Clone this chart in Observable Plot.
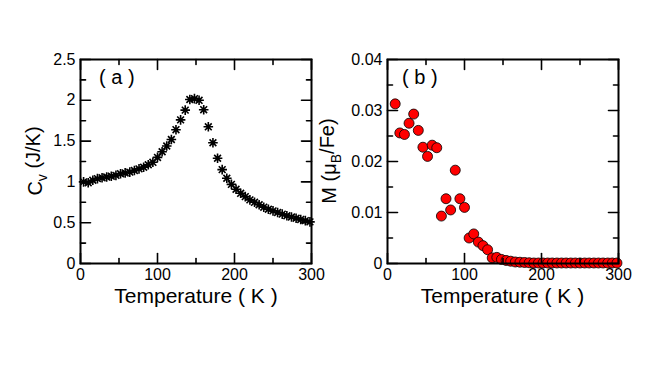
<!DOCTYPE html>
<html><head><meta charset="utf-8">
<script src="https://cdn.jsdelivr.net/npm/d3@7"></script>
<script src="https://cdn.jsdelivr.net/npm/@observablehq/plot@0.6"></script>
<style>
html,body{margin:0;padding:0;background:#fff;}
body{width:667px;height:375px;overflow:hidden;position:relative;font-family:"Liberation Sans",Arial,sans-serif;}
#pa,#pb{position:absolute;top:0;}
#pa{left:0;} #pb{left:300px;}
</style></head>
<body><div id="pa"></div><div id="pb"></div>
<script>
// ---- data ----
const temperatureA = [4,10,16,22,28,34,40,46,52,58,64,70,76,82,88,94,100,106,112,118,124,130,136,142,148,154,160,166,172,178,184,190,196,202,208,214,220,226,232,238,244,250,256,262,268,274,280,286,292,298];
const heatCapacity = [1.00,0.99,1.02,1.04,1.05,1.06,1.07,1.08,1.10,1.11,1.12,1.14,1.16,1.18,1.21,1.24,1.30,1.37,1.44,1.52,1.64,1.76,1.88,2.01,2.02,2.00,1.885,1.675,1.48,1.29,1.15,1.045,0.97,0.91,0.86,0.82,0.78,0.75,0.72,0.69,0.665,0.645,0.625,0.605,0.585,0.57,0.555,0.54,0.525,0.51];
const temperatureB = [10,16,22,28,34,40,46,52,58,64,70,76,82,88,94,100,106,112,118,124,130,136,142,148,154,160,166,172,178,184,190,196,202,208,214,220,226,232,238,244,250,256,262,268,274,280,286,292,298];
const magnetization = [0.0313,0.0256,0.0253,0.0275,0.0293,0.0261,0.0228,0.0210,0.0232,0.0227,0.0093,0.0127,0.0105,0.0183,0.0127,0.0110,0.0050,0.0058,0.0042,0.0035,0.0027,0.0011,0.0012,0.0008,0.0006,0.00045,0.0003,0.00025,0.0002,0.00015,0.0001,0.0001,0.0001,0.0001,0.0001,0.0001,0.0001,0.0001,0.0001,0.0001,0.0001,0.0001,0.0001,0.0001,0.0001,0.0001,0.0001,0.0001,0.0001];
const xTicks = [0,100,200,300];
const xMinorTicks = [50,150,250];
const cvTicks = [0,0.5,1,1.5,2,2.5];
const cvMinorTicks = [0.25,0.75,1.25,1.75,2.25];
const mTicks = [0,0.01,0.02,0.03,0.04];
const mMinorTicks = [0.005,0.015,0.025,0.035];

const FONT = "'Liberation Sans', Arial, Helvetica, sans-serif";
const star8 = {draw(ctx, size){ const r = Math.sqrt(size/Math.PI);
  for (let i=0;i<4;i++){ const a=i*Math.PI/4, c=Math.cos(a)*r, s=Math.sin(a)*r; ctx.moveTo(c,s); ctx.lineTo(-c,-s);} }};
const tickShape = {draw(ctx, l){ ctx.moveTo(0,0); ctx.lineTo(0,-l); }};

function tickMarks(ticks, axis, side, len){
  const rot = {bottom:0, top:180, left:90, right:-90}[side];
  const opts = {frameAnchor:side, length:len, rotate:rot, anchor:"start", shape:tickShape, stroke:"black", strokeWidth:1.6};
  if (axis === "x") opts.x = d => d; else opts.y = d => d;
  return Plot.vector(ticks, opts);
}

function frameAxes(yTicks, yMinor){
  return [
    Plot.axisX({anchor:"bottom", ticks:xTicks, tickSize:0, tickPadding:5, fontSize:16, label:null, tickFormat:d=>String(d)}),
    Plot.axisY({anchor:"left", ticks:yTicks, tickSize:0, tickPadding:5, fontSize:16, label:null, tickFormat:d=>String(d)}),
    tickMarks(xTicks, "x", "bottom", 10), tickMarks(xMinorTicks, "x", "bottom", 5),
    tickMarks(xTicks, "x", "top", 10), tickMarks(xMinorTicks, "x", "top", 5),
    tickMarks(yTicks, "y", "left", 10), tickMarks(yMinor, "y", "left", 5),
    tickMarks(yTicks, "y", "right", 10), tickMarks(yMinor, "y", "right", 5),
    Plot.frame({stroke:"black", strokeWidth:2})
  ];
}

const dataA = temperatureA.map((t,i)=>({t, v:heatCapacity[i]}));
const dataB = temperatureB.map((t,i)=>({t, v:magnetization[i]}));

const plotA = Plot.plot({
  width:333, height:320,
  marginLeft:80, marginRight:22, marginTop:59, marginBottom:57,
  style:{fontFamily:FONT, color:"black", background:"none", overflow:"visible"},
  x:{domain:[0,300]}, y:{domain:[0,2.5]},
  marks:[
    Plot.dot(dataA, {x:"t", y:"v", symbol:star8, r:4.8, fill:"none", stroke:"black", strokeWidth:1.6}),
    ...frameAxes(cvTicks, cvMinorTicks),
    Plot.text(["( a )"], {frameAnchor:"top-left", dx:18.5, dy:10, fontSize:20, textAnchor:"start", lineAnchor:"top", fill:"black"})
  ]
});
const plotB = Plot.plot({
  width:367, height:320,
  marginLeft:87, marginRight:49, marginTop:59, marginBottom:57,
  style:{fontFamily:FONT, color:"black", background:"none", overflow:"visible"},
  x:{domain:[0,300]}, y:{domain:[0,0.04]},
  marks:[
    Plot.dot(dataB, {x:"t", y:"v", r:5, fill:"#ff0000", stroke:"black", strokeWidth:0.8}),
    ...frameAxes(mTicks, mMinorTicks),
    Plot.text(["( b )"], {frameAnchor:"top-left", dx:14.5, dy:10, fontSize:20, textAnchor:"start", lineAnchor:"top", fill:"black"})
  ]
});
document.getElementById("pa").appendChild(plotA);
document.getElementById("pb").appendChild(plotB);

function addTitles(svg, xCenter, yBaselineX, parts){
  const s = d3.select(svg);
  s.append("text").attr("x", xCenter).attr("y", 303).attr("text-anchor","middle")
    .attr("font-size",21).attr("font-family",FONT).attr("fill","black").text("Temperature ( K )");
  const t = s.append("text").attr("transform",`translate(${yBaselineX},161) rotate(-90)`)
    .attr("text-anchor","middle").attr("font-size",20).attr("font-family",FONT).attr("fill","black");
  parts.forEach(([txt, sub]) => {
    const sp = t.append("tspan").text(txt);
    if (sub) sp.attr("font-size",14).attr("dy","0.35em");
    else if (t.node().childNodes.length>1) sp.attr("dy","-0.35em");
  });
}
addTitles(plotA, 196, 42, [["C",false],["v",true],[" (J/K)",false]]);
addTitles(plotB, 202.5, 36, [["M (μ",false],["B",true],["/Fe)",false]]);
</script>
</body></html>
